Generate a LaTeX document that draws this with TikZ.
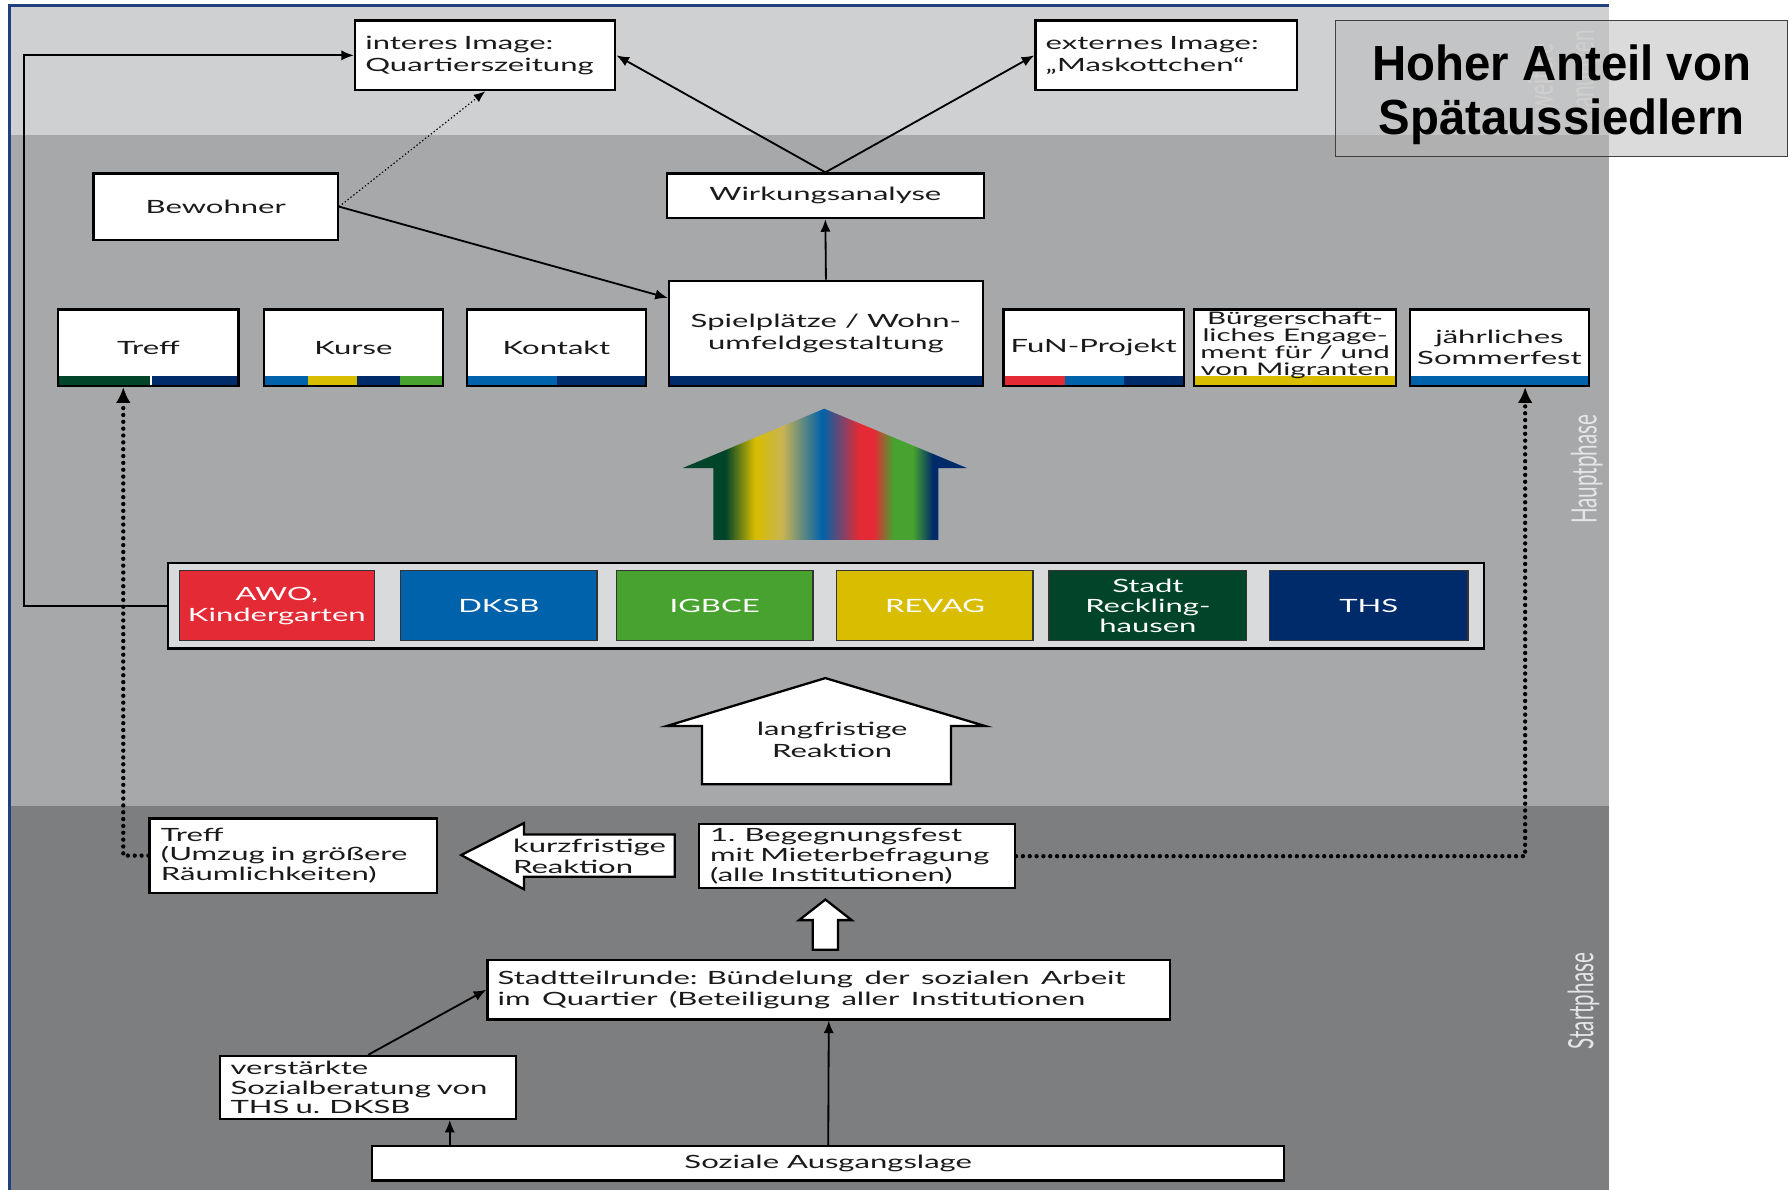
\documentclass[tikz,border=0pt]{standalone}
\usepackage{fontspec}
\setmainfont{Lato}[FakeStretch=1.7]
\newfontfamily\hfont{Liberation Sans}[FakeStretch=0.96]
\newfontfamily\lfont{Lato}[FakeStretch=0.59]
\usetikzlibrary{arrows.meta}
\definecolor{bgtop}{HTML}{CFD0D2}
\definecolor{bgmid}{HTML}{A7A8AA}
\definecolor{bgbot}{HTML}{7D7E80}
\definecolor{frameblue}{HTML}{1F3F7E}
\definecolor{cred}{HTML}{E32A35}
\definecolor{cblue}{HTML}{0062AA}
\definecolor{cgreen}{HTML}{47A22F}
\definecolor{cyellow}{HTML}{D8BD00}
\definecolor{cdgreen}{HTML}{00442A}
\definecolor{cnavy}{HTML}{002B6B}
\definecolor{ctan}{HTML}{C8B452}
\definecolor{barfill}{HTML}{D9DADC}
\definecolor{hoherfill}{HTML}{B9B9B9}
\definecolor{lblcol}{HTML}{E6E6E6}
\definecolor{txt}{HTML}{1A1A1A}
\pgfdeclarehorizontalshading{rainbow}{100bp}{color(0bp)=(cdgreen); color(25bp)=(cdgreen); color(32.5bp)=(cdgreen); color(37.7bp)=(cyellow); color(42.5bp)=(ctan); color(49.5bp)=(cblue); color(56bp)=(cred); color(58.7bp)=(cred); color(62bp)=(cgreen); color(65.5bp)=(cgreen); color(69bp)=(cnavy); color(75bp)=(cnavy); color(100bp)=(cnavy)}
\newcommand\fs{\fontsize{8}{9.6}\selectfont}
\newcommand\fsorg{\fontsize{8}{9.2}\selectfont}
\newcommand\fsthree{\fontsize{8}{8.6}\selectfont}
\newcommand\fstwo{\fontsize{8}{9.2}\selectfont}
\begin{document}
\begin{tikzpicture}[x=0.5pt,y=-0.5pt,
  box/.style={draw=black,line width=1pt,fill=white,inner sep=0pt,font=\fs,text=txt,align=center},
  lbox/.style={box,align=left},
  orgbox/.style={draw=black!80,line width=0.6pt,inner sep=0pt,text=white,font=\fsorg,align=center,minimum height=30.5pt},
  smallbox/.style={box,minimum height=33.5pt},
  arr/.style={line width=0.8pt,-{Latex[length=5.5pt,width=4.5pt]}},
  dotline/.style={line width=1.9pt,dash pattern=on 0pt off 3pt,line cap=round,-{Latex[length=7pt,width=6.5pt]}},
  thindot/.style={line width=0.5pt,dash pattern=on 0.6pt off 1pt,-{Latex[length=5pt,width=4pt]}},
  lbl/.style={text=lblcol,font=\lfont\fontsize{15.3}{18}\selectfont,rotate=90,inner sep=0pt,align=center}]
\useasboundingbox (0,0) rectangle (1568,1042);
\fill[white] (0,0) rectangle (1568,1042);
% background bands
\fill[bgtop] (9,5) rectangle (1409,118);
\fill[bgmid] (9,118) rectangle (1409,706);
\fill[bgbot] (9,706) rectangle (1409,1042);
\draw[frameblue,line width=1.3pt] (8,1042) -- (8,5) -- (1409,5);
% phase labels
\node[lbl] at (1370,68) {weitere\\Planungen};
\node[lbl] at (1390,411) {Hauptphase};
\node[lbl] at (1387,877) {Startphase};
% Hoher Anteil
\node[draw=black!75,line width=0.6pt,fill=hoherfill,fill opacity=0.5,minimum width=198pt,minimum height=59.5pt,inner sep=0pt] (hoher) at (1368,77.5) {};
\node[align=center,inner sep=0pt,font=\hfont\bfseries\fontsize{21.6}{24}\selectfont] (hohertext) at (1368,83) {Hoher Anteil von\\Spätaussiedlern};
% top boxes
\node[lbox,minimum width=114pt,minimum height=30.5pt,text width=105pt,inner xsep=4.5pt] (imgint) at (425,48.5) {\rule{0pt}{6pt}interes Image:\\Quartierszeitung};
\node[lbox,minimum width=114.5pt,minimum height=30.5pt,text width=105.5pt,inner xsep=4.5pt] (imgext) at (1021.5,48.5) {\rule{0pt}{6pt}externes Image:\\„Maskottchen“};
\node[box,minimum width=107pt,minimum height=29pt] (bew) at (189,181) {Bewohner};
\node[box,minimum width=139pt,minimum height=19.5pt] (wirk) at (723,171.5) {Wirkungsanalyse};
\node[box,minimum width=137.5pt,minimum height=46pt] (spiel) at (723.5,292) {Spielplätze / Wohn-\\umfeldgestaltung};
\fill[cnavy] (587,329) rectangle (860,337);
% small boxes
\node[smallbox,minimum width=79pt] (treff) at (130,304.5) {Treff};
\fill[cdgreen] (52,329) rectangle (131,337);
\fill[cnavy] (133,329) rectangle (208,337);
\node[smallbox,minimum width=78.5pt] (kurse) at (309.5,304.5) {Kurse};
\fill[cblue] (232,329) rectangle (270,337);
\fill[cyellow] (270,329) rectangle (313,337);
\fill[cnavy] (313,329) rectangle (350,337);
\fill[cgreen] (350,329) rectangle (387,337);
\node[smallbox,minimum width=78.5pt] (kontakt) at (487.5,304.5) {Kontakt};
\fill[cblue] (410,329) rectangle (488,337);
\fill[cnavy] (488,329) rectangle (565,337);
\node[smallbox,minimum width=79pt] (fun) at (958,304.5) {FuN-Projekt};
\fill[cred] (880,329) rectangle (933,337);
\fill[cblue] (933,329) rectangle (985,337);
\fill[cnavy] (985,329) rectangle (1036,337);
\node[smallbox,minimum width=88.5pt] (buerger) at (1134.5,304.5) {};
\fill[cyellow] (1047,329) rectangle (1222,337);
\node[font=\fontsize{7.6}{7.5}\selectfont,text=txt,align=center,inner sep=0pt] (buergertext) at (1134.5,302.5) {Bürgerschaft-\\liches Engage-\\ment für / und\\von Migranten};
\node[smallbox,minimum width=78.5pt,font=\fstwo] (sommer) at (1313.5,304.5) {jährliches\\Sommerfest};
\fill[cblue] (1236,329) rectangle (1391,337);
% rainbow arrow
\shade[shading=rainbow] (722,358) -- (847,410) -- (822,410) -- (822,473) -- (625,473) -- (625,410) -- (598,410) -- cycle;
% organisations
\node[draw=black,line width=1pt,fill=barfill,minimum width=576.5pt,minimum height=37.5pt,inner sep=0pt] (orgs) at (723.5,530.5) {};
\node[orgbox,fill=cred,minimum width=85.5pt] (awo) at (242.5,530.5) {AWO,\\Kindergarten};
\node[orgbox,fill=cblue,minimum width=86pt] (dksb) at (437,530.5) {DKSB};
\node[orgbox,fill=cgreen,minimum width=86pt] (igbce) at (626,530.5) {IGBCE};
\node[orgbox,fill=cyellow,minimum width=86pt] (revag) at (819,530.5) {REVAG};
\node[orgbox,fill=cdgreen,minimum width=86.5pt,font=\fontsize{8}{8.8}\selectfont] (stadt) at (1005.5,530.5) {Stadt\\Reckling-\\hausen};
\node[orgbox,fill=cnavy,minimum width=87pt] (ths) at (1199,530.5) {THS};
% langfristige Reaktion
\draw[line width=1pt,fill=white] (723,594) -- (863,636) -- (833,636) -- (833,687) -- (615,687) -- (615,636) -- (584,636) -- cycle;
\node[font=\fs,text=txt,align=center,inner sep=0pt] (langtext) at (729,648) {langfristige\\Reaktion};
% lower boxes
\node[lbox,font=\fsthree,minimum width=126pt,minimum height=32.5pt,text width=116pt,inner xsep=5pt] (treffzwei) at (257,749.5) {Treff\\(Umzug in größere\\Räumlichkeiten)};
\draw[line width=1pt,fill=white] (404,749) -- (459,721) -- (459,731) -- (591,731) -- (591,768) -- (459,768) -- (459,779) -- cycle;
\node[font=\fstwo,text=txt,align=left,anchor=west,inner sep=0pt] (kurztext) at (449,750) {kurzfristige\\Reaktion};
\node[lbox,font=\fsthree,minimum width=138.5pt,minimum height=28pt,text width=128.5pt,inner xsep=5pt] (beg) at (750.5,750) {1. Begegnungsfest\\mit Mieterbefragung\\(alle Institutionen)};
\draw[line width=1pt,fill=white] (723,788) -- (746,806) -- (734,806) -- (734,832) -- (712,832) -- (712,806) -- (700,806) -- cycle;
\node[lbox,minimum width=299pt,minimum height=26pt,text width=290pt,inner xsep=4.5pt,font=\fstwo] (stadtteil) at (726,867) {\spaceskip=5pt plus 1pt\relax Stadtteilrunde: Bündelung der sozialen Arbeit\\im Quartier (Beteiligung aller Institutionen};
\node[lbox,font=\fsthree,minimum width=129.5pt,minimum height=27.5pt,text width=120.5pt,inner xsep=4.5pt] (verst) at (322.5,952.5) {verstärkte\\Sozialberatung von\\THS u. DKSB};
\node[box,minimum width=399.5pt,minimum height=15pt] (soziale) at (725.5,1019) {Soziale Ausgangslage};
% connectors
\draw[arr] (orgs.west) -- ++(-125,0) |- (imgint.west);
\draw[thindot] (bew.east) -- (imgint.south);
\draw[arr] (bew.east) -- ([yshift=-8pt]spiel.north west);
\draw[arr] (spiel.north) -- (wirk.south);
\draw[arr] (wirk.north) -- (imgint.east);
\draw[arr] (wirk.north) -- (imgext.west);
\draw[dotline] (treffzwei.west) -| ([xshift=-11pt]treff.south);
\draw[dotline] (beg.east) -| ([xshift=11.25pt]sommer.south);
\draw[arr] (soziale.north) -- (stadtteil.south);
\draw[arr] ([xshift=34.5pt]soziale.north west) -- ([xshift=34.5pt]soziale.north west |- verst.south);
\draw[arr] (verst.north) -- (stadtteil.west);
\end{tikzpicture}
\end{document}
